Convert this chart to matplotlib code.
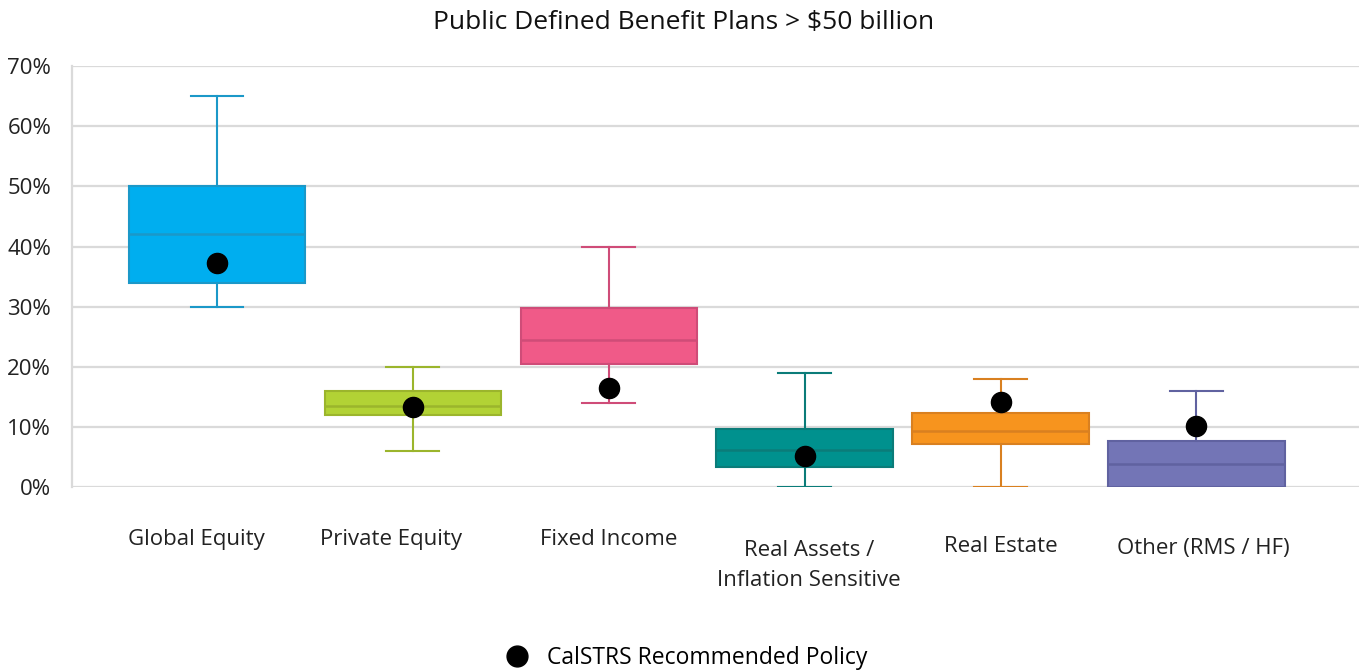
import matplotlib.pyplot as plt
from matplotlib.lines import Line2D

plt.rcParams['font.family'] = ['Open Sans', 'DejaVu Sans']

categorias = ['Global Equity', 'Private Equity', 'Fixed Income',
              'Real Assets /\nInflation Sensitive', 'Real Estate', 'Other (RMS / HF)']
minimo = [30, 6, 14, 0, 0, 0]
q1 = [34, 12, 20.5, 3.3, 7.1, 0]
mediana = [42, 13.5, 24.5, 6.1, 9.3, 3.8]
q3 = [50, 16, 29.8, 9.6, 12.4, 7.6]
maximo = [65, 20, 40, 19, 18, 16]
politica = [37.3, 13.3, 16.5, 5.1, 14.1, 10.1]

cor_box = ['#00aeef', '#b2d235', '#f05a88', '#00918e', '#f7941e', '#7375b6']
cor_borda = ['#1b98c8', '#9bb52c', '#cf4c78', '#0b7c79', '#d98020', '#6062a0']
# deslocamento dos rótulos (pontos)
label_dx = [-15, -16, 0, 3, 0, 5]
label_dy = [-38, -38, -38, -56.5, -42.5, -44]

fig = plt.figure(figsize=(13.59, 6.71), dpi=100)
ax = fig.add_axes([0.053, 0.274, 0.947, 0.6276])

stats = []
for i in range(len(categorias)):
    stats.append({'whislo': minimo[i], 'q1': q1[i], 'med': mediana[i],
                  'q3': q3[i], 'whishi': maximo[i]})

for i, s in enumerate(stats):
    ax.bxp([s], positions=[i], widths=0.9, capwidths=0.27, showfliers=False,
           patch_artist=True,
           boxprops=dict(facecolor=cor_box[i], edgecolor=cor_borda[i], linewidth=1.5),
           medianprops=dict(color=cor_borda[i], linewidth=1.8),
           whiskerprops=dict(color=cor_borda[i], linewidth=1.5),
           capprops=dict(color=cor_borda[i], linewidth=1.5),
           manage_ticks=False, zorder=3)

ax.scatter(range(len(categorias)), politica, s=210, color='black', zorder=5)

ax.set_xlim(-0.74, 5.83)
ax.set_ylim(0, 70)
ax.set_yticks(range(0, 71, 10))
ax.set_yticklabels([f'{v}%' for v in range(0, 71, 10)], fontsize=16, color='#222222')
ax.set_xticks([])
ax.grid(True, axis='y', color='#dadada', linewidth=1.6, zorder=0)
ax.set_axisbelow(True)
for lado in ['top', 'right', 'bottom']:
    ax.spines[lado].set_visible(False)
ax.spines['left'].set_color('#dadada')
ax.spines['left'].set_linewidth(1.6)
ax.tick_params(axis='y', length=0, pad=15)

for i, nome in enumerate(categorias):
    ax.annotate(nome, xy=(i, 0), xycoords='data', xytext=(label_dx[i], label_dy[i]),
                textcoords='offset points', ha='center', va='center', fontsize=16,
                color='#222222', linespacing=1.6)

fig.suptitle('Public Defined Benefit Plans > $50 billion', x=0.503, y=0.967,
             va='center', fontsize=19, color='#111111')

handle = Line2D([], [], marker='o', color='black', linestyle='none', markersize=15)
fig.legend([handle], ['CalSTRS Recommended Policy'], loc='center',
           bbox_to_anchor=(0.501, 0.019), frameon=False, fontsize=16.5,
           handletextpad=0.3)

fig.savefig('out.png', dpi=100)
